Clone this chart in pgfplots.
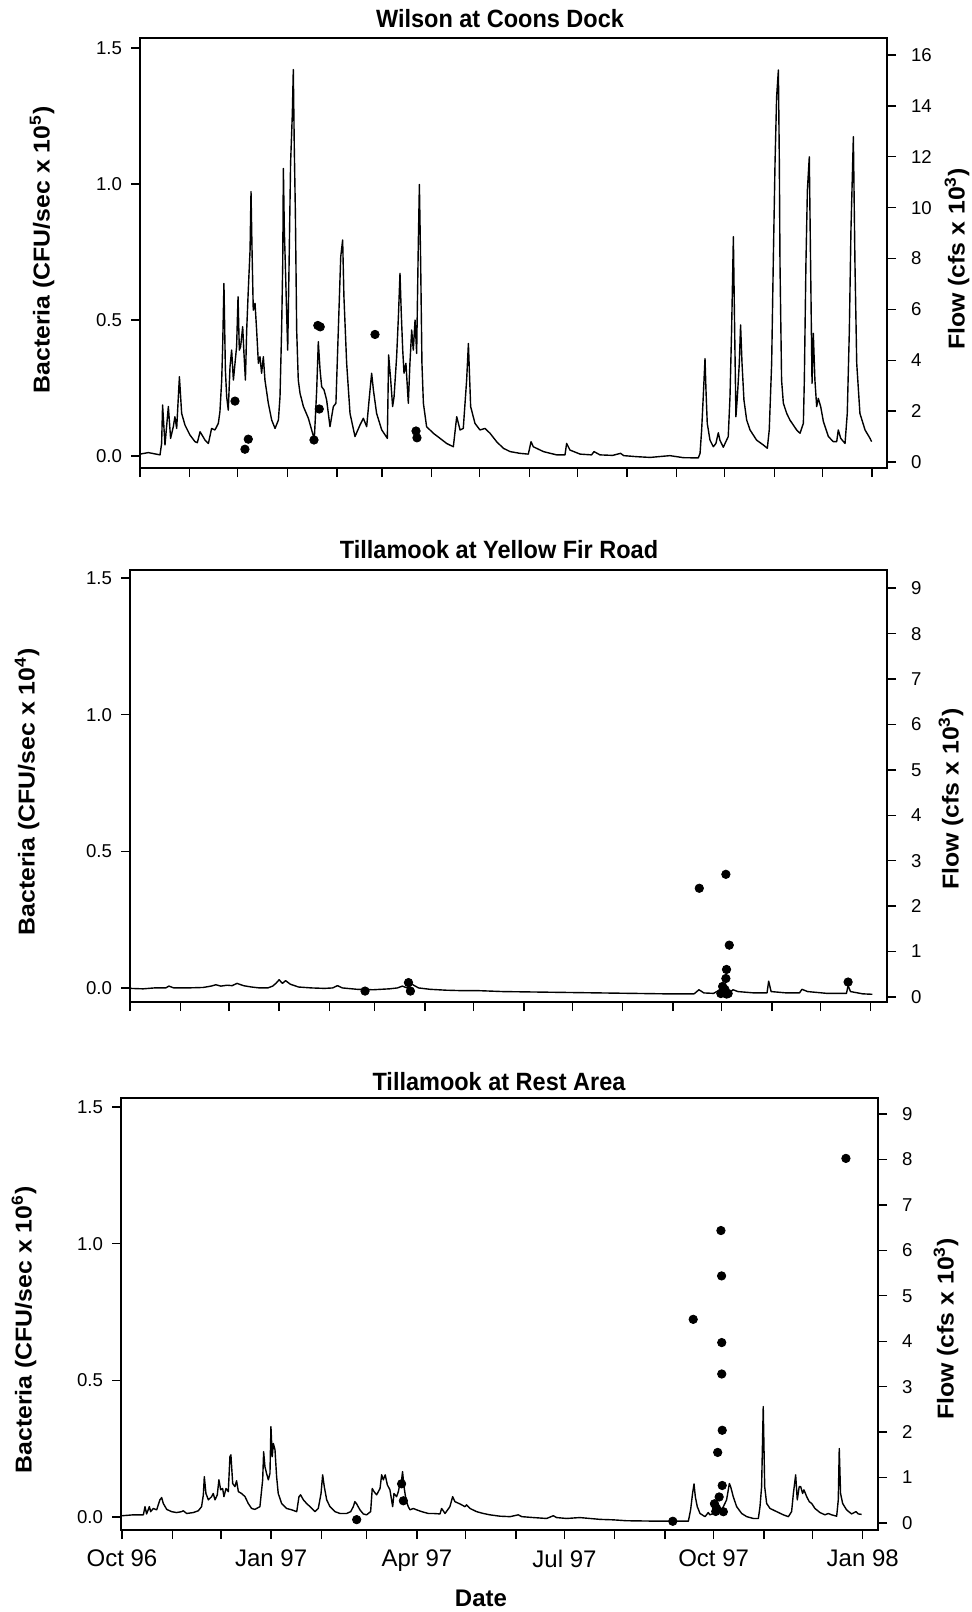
\documentclass[border=0pt]{standalone}
\usepackage{fontspec}
\setmainfont{Liberation Sans}
\newfontfamily\labelfont[FakeStretch=1.08]{Liberation Sans}
\newfontfamily\titlefont[FakeStretch=0.94]{Liberation Sans}
\usepackage{pgfplots}
\pgfplotsset{compat=1.18}

% common look of one station panel (1 unit of the page = 0.5pt)
\pgfplotsset{
  panel/.style={
    scale only axis,
    axis line style={line width=0.85pt},
    every tick/.style={line width=0.7pt, black},
    tick align=outside,
    major tick length=4.5pt,
    xtick={0,31,61,92,123,151,182,212,243,273,304,335,365,396,426,457},
    ticklabel style={font=\fontsize{9.3pt}{10pt}\selectfont},
  },
  bacteria/.style={
    panel,
    ytick={0,0.5,1,1.5}, yticklabels={0.0,0.5,1.0,1.5},
    ytick pos=left, xtick pos=left,
    yticklabel style={xshift=-1pt},
  },
  flow/.style={
    panel,
    axis x line=none, axis y line*=right,
    ytick pos=right,
    yticklabel style={xshift=4pt},
  },
  samples/.style={only marks, mark=*, mark size=2.1pt, black},
  hydro/.style={black, line width=0.7pt, mark=none, line join=round},
}
\newcommand{\paneltitle}{\titlefont\fontsize{12.5pt}{14pt}\selectfont\bfseries}
\newcommand{\axlabel}{\labelfont\fontsize{11.5pt}{13pt}\selectfont\bfseries}

\begin{document}
\begin{tikzpicture}
\path[use as bounding box] (0pt,0pt) rectangle (485.5pt,-806pt);

% ---------------- Wilson at Coons Dock ----------------
\begin{axis}[bacteria, at={(70pt,-234pt)}, anchor=south west,
  width=373.5pt, height=215pt,
  xmin=0, xmax=466.3, ymin=-0.044, ymax=1.537,
  xticklabels={,,}]
\addplot[samples] coordinates {
 (59.3,0.202) (65.5,0.025) (67.6,0.062) (108.6,0.059) (111,0.480)
 (112.5,0.475) (111.9,0.173) (146.7,0.447) (172.3,0.092) (172.9,0.067)};
\end{axis}
\begin{axis}[flow, at={(70pt,-234pt)}, anchor=south west,
  width=373.5pt, height=215pt,
  xmin=0, xmax=466.3, ymin=-0.236, ymax=16.67,
  ytick={0,2,4,6,8,10,12,14,16}, yticklabels={0,2,4,6,8,10,12,14,16}]
\addplot[hydro] coordinates {
 (0,0.31) (5.2,0.37) (12.5,0.28) (13.5,0.73) (14.1,2.24) (15.6,0.67)
 (17.7,2.18) (19.1,0.93) (20.8,1.39) (21.8,1.78) (22.9,1.32) (24.6,3.35)
 (26.0,1.91) (28.1,1.45) (31.2,1.06) (34.3,0.80) (35.8,0.76) (37.5,1.19)
 (40.6,0.86) (42.7,0.73) (44.7,1.32) (46.8,1.26) (48.9,1.52) (49.9,1.98)
 (51.0,3.22) (51.6,4.53) (52.4,7.02) (53.3,3.62) (54.1,2.57) (55.1,2.04)
 (56.2,3.75) (57.2,4.40) (58.3,3.22) (59.3,3.88) (60.3,4.53) (61.2,6.50)
 (62.0,4.40) (62.8,4.53) (64.1,5.32) (64.9,4.27) (65.8,3.22) (66.6,5.19)
 (67.6,6.76) (68.7,8.33) (69.3,10.63) (69.9,8.46) (70.7,5.97) (71.8,6.24)
 (72.8,5.19) (73.9,3.88) (74.9,4.14) (75.9,3.49) (77.0,4.14) (78.0,3.22)
 (80.1,2.31) (82.2,1.65) (84.3,1.32) (86.4,1.65) (87.4,2.57) (88.4,5.19)
 (89.1,7.81) (89.5,11.54) (90.1,9.12) (90.7,7.81) (91.6,5.71) (92.2,4.40)
 (93.0,7.55) (94.0,11.74) (95.1,13.71) (95.7,15.43) (96.3,12.40) (97.0,9.77)
 (97.8,5.19) (98.8,3.22) (99.9,2.70) (102.0,2.18) (105.1,1.72) (108.8,0.89)
 (110.3,2.83) (111.3,4.73) (112.4,3.62) (113.4,2.96) (114.9,2.83) (116.5,2.44)
 (118.6,1.39) (120.7,2.18) (122.3,2.31) (123.8,5.19) (125.3,8.07) (126.5,8.73)
 (127.3,6.50) (129.0,3.88) (131.1,1.91) (134.2,1.00) (137.3,1.45) (139.4,1.72)
 (141.5,1.39) (143.2,2.57) (144.6,3.49) (145.7,2.83) (147.7,1.91) (150.9,1.26)
 (154.4,0.93) (155.2,4.21) (156.5,3.22) (157.7,2.18) (158.6,2.57) (160.2,4.14)
 (161.3,5.71) (162.3,7.42) (163.1,5.84) (164.0,4.40) (164.8,3.49) (166.0,3.88)
 (167.5,2.31) (168.5,3.88) (169.6,5.19) (170.6,4.40) (171.7,5.58) (172.7,4.27)
 (173.7,8.46) (174.4,10.91) (175.2,7.81) (176.0,3.88) (176.9,2.31) (178.9,1.39)
 (181.0,1.26) (183.1,1.13) (187.3,0.93) (191.4,0.73) (195.6,0.60) (197.7,1.78)
 (199.8,1.26) (201.8,1.32) (203.9,3.22) (205.0,4.66) (206.4,2.18) (209.1,1.52)
 (212.2,1.26) (215.4,1.32) (218.5,1.13) (222.6,0.80) (226.8,0.54) (231.0,0.41)
 (237.2,0.34) (242.4,0.31) (244.1,0.80) (245.5,0.60) (251.8,0.41) (260.1,0.28)
 (265.3,0.28) (266.3,0.73) (268.4,0.47) (274.7,0.31) (281.9,0.28) (283.4,0.41)
 (287.1,0.28) (295,0.26) (300,0.34) (302,0.25) (310,0.21) (318.4,0.18)
 (330.8,0.25) (339.2,0.17) (348.5,0.16) (349.6,0.34) (350.6,1.26) (351.6,2.57)
 (352.7,4.07) (353.3,2.83) (354.1,1.52) (355.8,0.86) (357.9,0.60) (359.5,0.73)
 (361.0,1.15) (362.0,0.86) (364.1,0.58) (367.2,1.00) (368.3,2.57) (369.3,5.19)
 (370.4,8.86) (371.2,5.19) (372.0,1.78) (372.9,2.57) (374.1,3.88) (374.9,5.39)
 (375.8,3.88) (377.0,2.44) (378.7,1.65) (380.8,1.26) (384.9,0.86) (389.1,0.67)
 (391.6,0.54) (392.8,1.26) (394.3,3.88) (395.3,7.81) (396.4,11.74) (397.4,14.36)
 (398.5,15.41) (399.1,11.74) (399.5,7.81) (400.5,3.22) (401.6,2.31) (403.7,1.91)
 (405.7,1.65) (409.9,1.26) (412.0,1.13) (414.1,1.52) (414.7,3.22) (415.7,7.81)
 (416.6,10.69) (417.8,12.00) (418.6,7.81) (419.5,3.09) (420.3,5.06) (421.3,3.22)
 (422.4,2.18) (423.4,2.50) (424.9,2.18) (426.6,1.59) (429.7,1.00) (432.8,0.80)
 (434.9,0.80) (435.9,1.26) (437.4,0.93) (440.1,0.73) (441.5,1.91) (442.8,5.19)
 (443.8,9.12) (445.3,12.79) (446.3,7.81) (447.4,3.88) (449.4,1.91) (452.6,1.26)
 (455.7,0.93) (456.7,0.80)};
\end{axis}
\node[font=\paneltitle] at (250pt,-9.5pt) {Wilson at Coons Dock};
\node[font=\axlabel, rotate=90] at (21pt,-125pt) {Bacteria (CFU/sec x 10\textsuperscript{5})};
\node[font=\axlabel, rotate=90] at (478.5pt,-129.5pt) {Flow (cfs x 10\textsuperscript{3})};

% ---------------- Tillamook at Yellow Fir Road ----------------
\begin{axis}[bacteria, at={(65pt,-501pt)}, anchor=south west,
  width=378.5pt, height=216pt,
  xmin=0, xmax=467, ymin=-0.051, ymax=1.529,
  xticklabels={,,}]
\addplot[samples] coordinates {
 (145,-0.011) (171.8,0.020) (173,-0.011) (351.2,0.365) (367.6,0.416)
 (369.7,0.157) (368,0.068) (367.6,0.035) (365.6,0.006) (364.5,-0.020)
 (369,-0.020) (367,-0.005) (368,-0.022) (443,0.022)};
\end{axis}
\begin{axis}[flow, at={(65pt,-501pt)}, anchor=south west,
  width=378.5pt, height=216pt,
  xmin=0, xmax=467, ymin=-0.11, ymax=9.40,
  ytick={0,1,2,3,4,5,6,7,8,9}, yticklabels={0,1,2,3,4,5,6,7,8,9}]
\addplot[hydro] coordinates {
 (0,0.19) (8,0.18) (15,0.20) (22,0.20) (24,0.24) (27,0.20) (35,0.20)
 (45,0.21) (50,0.24) (53,0.27) (56,0.24) (60,0.26) (63,0.25) (66,0.30)
 (70,0.25) (75,0.22) (80,0.20) (85,0.20) (88,0.24) (90,0.30) (92,0.38)
 (94,0.30) (96,0.36) (99,0.28) (104,0.22) (112,0.20) (120,0.19) (125,0.20)
 (128,0.25) (131,0.20) (140,0.17) (150,0.16) (160,0.18) (165,0.20) (168,0.24)
 (171,0.20) (174,0.28) (178,0.20) (185,0.17) (195,0.15) (205,0.14) (215,0.14)
 (230,0.12) (250,0.11) (270,0.10) (290,0.09) (310,0.08) (330,0.07) (348,0.07)
 (351,0.16) (354,0.09) (360,0.08) (363,0.14) (365,0.20) (367,0.12) (370,0.10)
 (372,0.16) (375,0.12) (385,0.09) (393,0.09) (394,0.35) (395.5,0.12) (405,0.09)
 (413,0.09) (414.5,0.17) (418,0.12) (430,0.08) (442,0.08) (443,0.25) (444.5,0.12)
 (452,0.07) (458,0.06)};
\end{axis}
\node[font=\paneltitle] at (249.5pt,-275pt) {Tillamook at Yellow Fir Road};
\node[font=\axlabel, rotate=90] at (13.5pt,-396pt) {Bacteria (CFU/sec x 10\textsuperscript{4})};
\node[font=\axlabel, rotate=90] at (475.5pt,-399.5pt) {Flow (cfs x 10\textsuperscript{3})};

% ---------------- Tillamook at Rest Area ----------------
\begin{axis}[bacteria, at={(60.5pt,-765pt)}, anchor=south west,
  width=378.5pt, height=216pt,
  xmin=-0.6, xmax=466.4, ymin=-0.048, ymax=1.533,
  xticklabels={Oct 96,,,Jan 97,,,Apr 97,,,Jul 97,,,Oct 97,,,Jan 98},
  xticklabel style={font=\fontsize{12pt}{13pt}\selectfont, yshift=-2pt}]
\addplot[samples] coordinates {
 (144.8,-0.010) (172.5,0.121) (173.6,0.059) (339.8,-0.016) (352.4,0.723)
 (369.5,1.048) (369.9,0.882) (370,0.638) (370,0.523) (370.3,0.317)
 (367.5,0.236) (370.3,0.115) (368.4,0.073) (365.5,0.048) (366.8,0.032)
 (371,0.019) (366.3,0.020) (446.6,1.312)};
\end{axis}
\begin{axis}[flow, at={(60.5pt,-765pt)}, anchor=south west,
  width=378.5pt, height=216pt,
  xmin=-0.6, xmax=466.4, ymin=-0.154, ymax=9.35,
  ytick={0,1,2,3,4,5,6,7,8,9}, yticklabels={0,1,2,3,4,5,6,7,8,9}]
\addplot[hydro] coordinates {
 (0,0.16) (7.0,0.18) (13.2,0.18) (14.2,0.36) (15.2,0.20) (16.9,0.36)
 (17.7,0.25) (19.3,0.32) (21.4,0.29) (23.4,0.51) (24.5,0.56) (25.5,0.43)
 (27.6,0.30) (30.6,0.25) (33.7,0.23) (36.8,0.25) (37.8,0.27) (39.9,0.21)
 (44.0,0.23) (47.1,0.27) (49.1,0.36) (50.2,0.62) (50.8,1.02) (51.8,0.65)
 (53.3,0.51) (55.3,0.58) (56.3,0.65) (57.4,0.51) (58.8,0.62) (59.8,0.95)
 (60.9,0.73) (62.1,0.76) (62.9,0.58) (64.2,0.76) (65.6,0.69) (66.6,1.46)
 (67.2,1.50) (68.3,0.87) (69.7,0.80) (70.7,0.93) (71.8,0.69) (73.8,0.65)
 (75.9,0.58) (77.9,0.43) (80.0,0.32) (82.0,0.30) (85.1,0.36) (86.8,0.95)
 (87.4,1.57) (88.2,1.24) (89.2,1.09) (90.3,0.95) (91.3,1.09) (91.9,2.12)
 (92.7,1.46) (93.4,1.75) (94.4,1.61) (95.4,1.02) (96.4,0.65) (98.5,0.43)
 (101.6,0.32) (104.7,0.29) (107.8,0.25) (109.2,0.58) (110.2,0.62) (111.9,0.51)
 (113.9,0.43) (116.0,0.36) (119.1,0.25) (121.1,0.32) (122.8,0.65) (123.8,1.06)
 (124.8,0.80) (126.3,0.51) (128.3,0.36) (131.4,0.25) (134.5,0.21) (138.6,0.21)
 (141.1,0.25) (142.7,0.36) (143.7,0.47) (144.8,0.42) (146.8,0.29) (148.9,0.20)
 (150.9,0.18) (153.4,0.25) (154.4,0.76) (155.5,0.69) (157.1,0.62) (159.2,0.76)
 (160.2,1.06) (161.2,0.95) (162.4,1.06) (163.7,0.84) (165.3,0.73) (167.0,0.36)
 (167.8,0.65) (169.4,0.58) (170.5,0.69) (171.5,0.87) (172.5,0.95) (173.1,1.13)
 (174.0,0.80) (175.2,0.51) (176.6,0.36) (177.7,0.29) (179.7,0.32) (181.8,0.29)
 (184.9,0.25) (189.0,0.21) (192.1,0.21) (196.2,0.20) (197.2,0.32) (199.3,0.21)
 (202.3,0.36) (204.0,0.58) (205.4,0.47) (208.5,0.42) (211.6,0.36) (212.6,0.40)
 (214.7,0.32) (218.8,0.25) (222.9,0.21) (227.0,0.18) (233.2,0.15) (239.4,0.14)
 (244.5,0.18) (246.6,0.14) (253.8,0.12) (262.0,0.10) (266.1,0.16) (268.1,0.12)
 (274.3,0.10) (282.5,0.12) (288.7,0.10) (294.9,0.08) (303.1,0.07) (311.3,0.05)
 (331.9,0.04) (349.4,0.04) (350.8,0.29) (352.0,0.65) (352.9,0.86) (353.7,0.58)
 (354.9,0.36) (356.6,0.21) (359.7,0.14) (361.7,0.23) (362.7,0.18) (364.8,0.21)
 (366.9,0.29) (368.9,0.25) (371.0,0.36) (373.0,0.51) (374.7,0.87) (375.5,0.80)
 (377.1,0.58) (379.2,0.36) (382.3,0.21) (385.4,0.14) (389.5,0.10) (392.6,0.10)
 (393.6,0.36) (394.6,0.80) (395.6,2.56) (396.5,0.80) (397.7,0.43) (399.8,0.32)
 (403.9,0.25) (408.0,0.18) (411.1,0.14) (413.1,0.25) (414.2,0.65) (415.6,1.06)
 (416.6,0.51) (417.8,0.80) (418.7,0.80) (419.9,0.65) (420.7,0.73) (422.4,0.58)
 (424.0,0.47) (425.5,0.43) (427.5,0.32) (430.6,0.23) (433.7,0.18) (435.7,0.21)
 (437.8,0.18) (440.9,0.15) (441.9,0.51) (442.5,1.64) (443.3,0.65) (444.6,0.43)
 (447.0,0.29) (450.1,0.20) (452.8,0.25) (454.2,0.20) (456.3,0.19)};
\end{axis}
\node[font=\paneltitle] at (249.5pt,-541pt) {Tillamook at Rest Area};
\node[font=\axlabel, rotate=90] at (12pt,-665pt) {Bacteria (CFU/sec x 10\textsuperscript{6})};
\node[font=\axlabel, rotate=90] at (473pt,-664.5pt) {Flow (cfs x 10\textsuperscript{3})};
\node[font=\fontsize{12pt}{14pt}\selectfont\bfseries] at (240.5pt,-799pt) {Date};
\end{tikzpicture}
\end{document}
